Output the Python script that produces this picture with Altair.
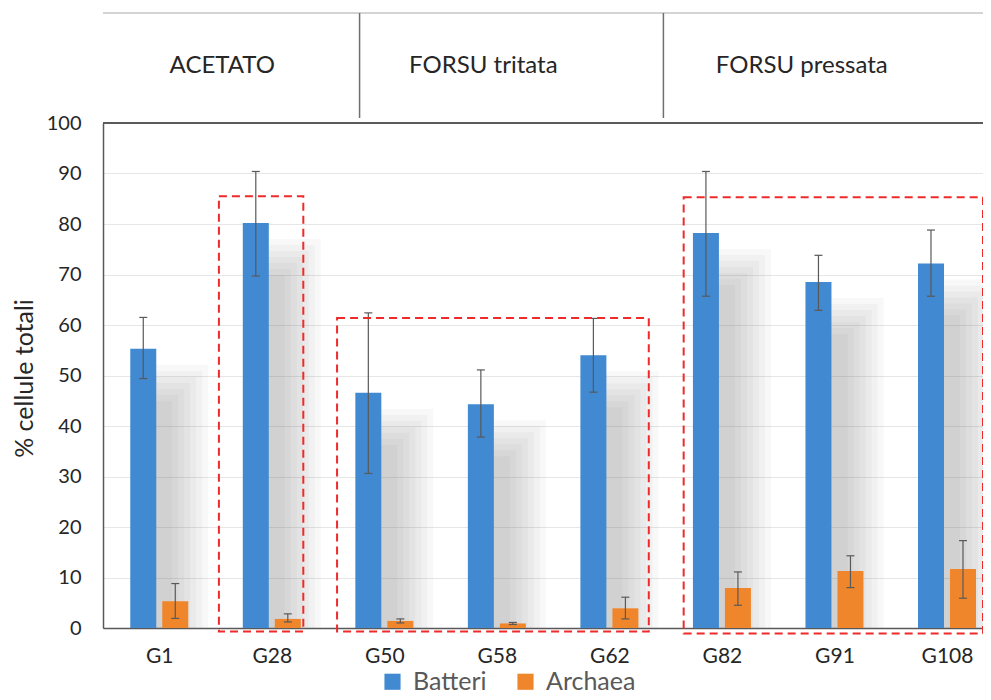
import altair as alt
import pandas as pd

# ---------------- data ----------------
categories = ["G1", "G28", "G50", "G58", "G62", "G82", "G91", "G108"]
batteri = [55.3, 80.2, 46.6, 44.3, 54.0, 78.2, 68.5, 72.2]
batteri_lo = [49.4, 69.7, 30.6, 37.8, 46.7, 65.7, 62.9, 65.7]
batteri_hi = [61.5, 90.4, 62.4, 51.1, 61.3, 90.4, 73.8, 78.8]
archaea = [5.3, 1.8, 1.4, 0.9, 3.9, 7.9, 11.3, 11.7]
archaea_lo = [1.9, 1.2, 1.0, 0.7, 1.8, 4.5, 8.0, 5.9]
archaea_hi = [8.8, 2.8, 1.8, 1.1, 6.1, 11.1, 14.3, 17.3]
series_names = ["Batteri", "Archaea"]
series_colors = ["#4189d1", "#f0862c"]

group_labels = ["ACETATO", "FORSU tritata", "FORSU pressata"]
group_label_pos = [0.56, 2.88, 5.71]
group_dividers = [1.78, 4.48]

# dashed highlight boxes (x in category units, y in %)
box_x = [0.53, 1.58, 4.66]
box_x2 = [1.28, 4.35, 7.32]
box_top = [85.5, 61.4, 85.3]
box_bottom = [-0.7, -0.7, -1.1]

# ---------------- layout ----------------
W, H = 880, 505
XMIN, XMAX = -0.5, 7.32
pxu = W / (XMAX - XMIN)      # px per category unit
pyu = H / 100.0              # px per %
bar_off = 16 / pxu
bar_half = 13 / pxu
cap_half = 4 / pxu

rows = []
for i, c in enumerate(categories):
    for s, vals, lo, hi, sign in [
        ("Batteri", batteri, batteri_lo, batteri_hi, -1),
        ("Archaea", archaea, archaea_lo, archaea_hi, 1),
    ]:
        cx = i + sign * bar_off
        rows.append(dict(cat=c, series=s, value=vals[i], lo=lo[i], hi=hi[i],
                         cx=cx, x1=cx - bar_half, x2=cx + bar_half,
                         c1=cx - cap_half, c2=cx + cap_half, zero=0))
df = pd.DataFrame(rows)

# blurred drop-shadow approximation behind blue bars (style only)
sh = []
for i, c in enumerate(categories):
    cx = i - bar_off
    for s in [36, 30, 24, 18, 12, 6, 0]:
        sh.append(dict(x1=cx - bar_half + 12 / pxu,
                       x2=cx + bar_half + (16 + s) / pxu,
                       top=batteri[i] - (52 - s) / pyu, zero=0))
shdf = pd.DataFrame(sh)

boxes = pd.DataFrame(dict(x=box_x, x2=box_x2, y=box_top, y2=box_bottom))
hdr = pd.DataFrame(dict(label=group_labels, pos=group_label_pos))
divs = pd.DataFrame(dict(pos=group_dividers))

FONT = "Lato"
xs = alt.Scale(domain=[XMIN, XMAX], nice=False, zero=False)
ys = alt.Scale(domain=[0, 100], nice=False)

label_expr = "[" + ",".join("'%s'" % c for c in categories) + "][datum.value]"

xaxis = alt.Axis(values=list(range(len(categories))), labelExpr=label_expr,
                 title=None, grid=False, ticks=False, labelFontSize=21,
                 labelFont=FONT, labelColor="#262626", labelPadding=17,
                 domainColor="#595959", domainWidth=1.5)
yaxis = alt.Axis(values=list(range(0, 101, 10)), title="% cellule totali",
                 titleFont=FONT, titleFontSize=25, titleFontWeight="normal",
                 titleColor="#262626", titleX=-71, titleY=255,
                 titleBaseline="alphabetic", titleAngle=270,
                 labelFont=FONT, labelFontSize=20, labelColor="#262626",
                 ticks=False, labelPadding=22, grid=True, gridColor="#e6e6e6",
                 domainColor="#595959", domainWidth=1.5)

shadow = alt.Chart(shdf).mark_rect(color="#555555", opacity=0.045).encode(
    x=alt.X("x1:Q", scale=xs, axis=xaxis), x2="x2:Q",
    y=alt.Y("top:Q", scale=ys, axis=yaxis), y2="zero:Q")

bars = alt.Chart(df).mark_rect().encode(
    x=alt.X("x1:Q", scale=xs), x2="x2:Q",
    y=alt.Y("value:Q", scale=ys), y2="zero:Q",
    color=alt.Color("series:N", scale=alt.Scale(domain=series_names, range=series_colors),
                    legend=alt.Legend(title=None, orient="none", direction="horizontal",
                                      legendX=277, legendY=546, symbolType="square",
                                      symbolSize=260, symbolStrokeWidth=0,
                                      labelFont=FONT, labelFontSize=25,
                                      labelColor="#595959", labelOffset=8,
                                      columnPadding=26, padding=0)))

err = alt.Chart(df).mark_rule(color="#595959", strokeWidth=1.2).encode(
    x=alt.X("cx:Q", scale=xs), y=alt.Y("lo:Q", scale=ys), y2="hi:Q")
cap_hi = alt.Chart(df).mark_rule(color="#595959", strokeWidth=1.2).encode(
    x=alt.X("c1:Q", scale=xs), x2="c2:Q", y=alt.Y("hi:Q", scale=ys))
cap_lo = alt.Chart(df).mark_rule(color="#595959", strokeWidth=1.2).encode(
    x=alt.X("c1:Q", scale=xs), x2="c2:Q", y=alt.Y("lo:Q", scale=ys))

box = alt.Chart(boxes).mark_rect(filled=False, stroke="#ee2a2a", strokeWidth=2,
                                 strokeDash=[8, 5]).encode(
    x=alt.X("x:Q", scale=xs), x2="x2:Q", y=alt.Y("y:Q", scale=ys), y2="y2:Q")

top_frame = alt.Chart(hdr).mark_rule(color="#595959", strokeWidth=1.5).encode(
    x=alt.value(0), x2=alt.value(W), y=alt.value(0))

hdr_line = alt.Chart(hdr).mark_rule(color="#d4d4d4", strokeWidth=2).encode(
    x=alt.value(0), x2=alt.value(W), y=alt.value(-110))
hdr_div = alt.Chart(divs).mark_rule(color="#6f6f6f", strokeWidth=1.5).encode(
    x=alt.X("pos:Q", scale=xs), y=alt.value(-110), y2=alt.value(-5))
hdr_text = alt.Chart(hdr).mark_text(font=FONT, fontSize=24, color="#262626",
                                    baseline="middle", align="center").encode(
    x=alt.X("pos:Q", scale=xs), y=alt.value(-57), text="label:N")

chart = alt.layer(shadow, bars, err, cap_hi, cap_lo, box, top_frame,
                  hdr_line, hdr_div, hdr_text).properties(
    width=W, height=H,
    autosize=alt.AutoSizeParams(type="none"),
    padding={"left": 95, "top": 115, "right": 0, "bottom": 72},
).configure_view(stroke=None).configure(background="white")

chart.save("out.html", embed_options={"renderer": "svg", "actions": False})
